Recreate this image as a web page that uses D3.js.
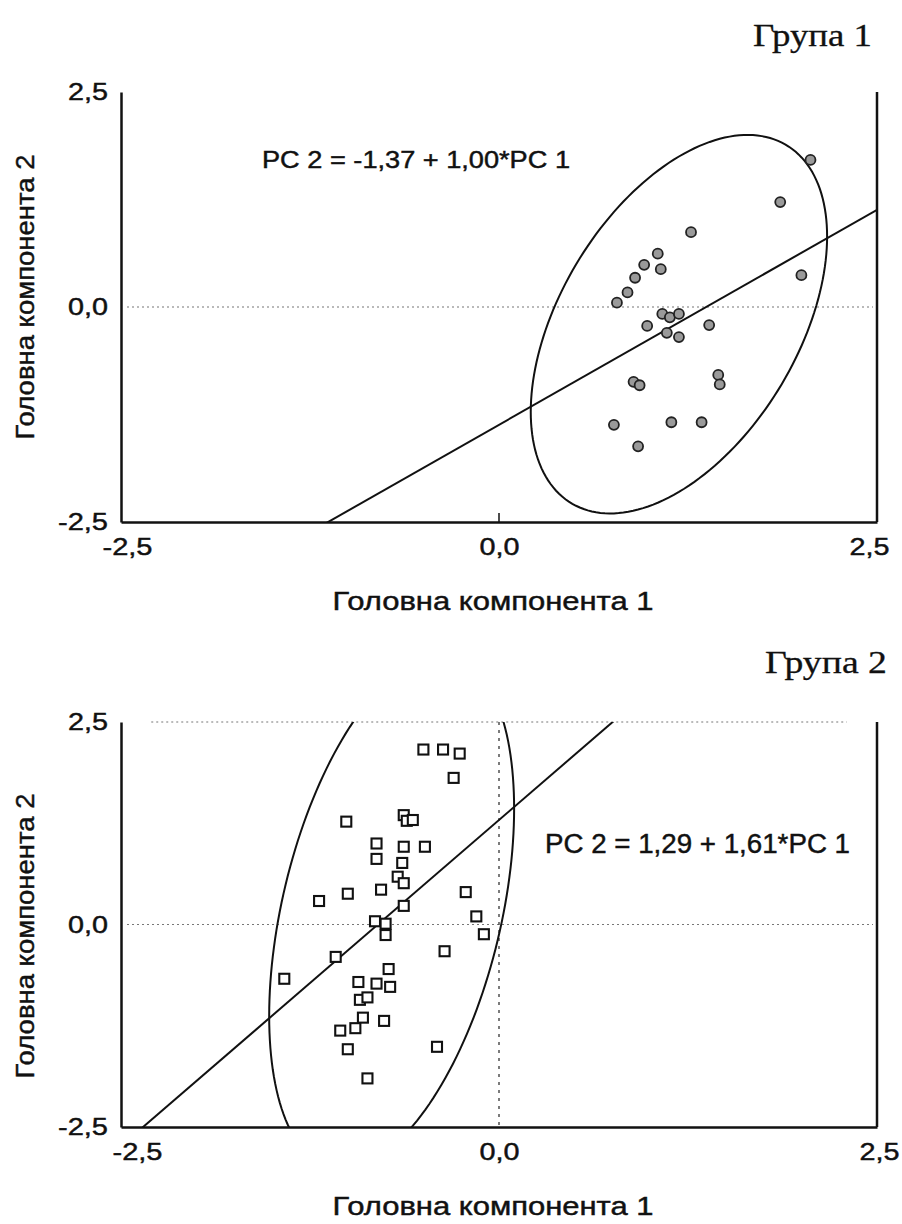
<!DOCTYPE html>
<html>
<head>
<meta charset="utf-8">
<script src="https://cdn.jsdelivr.net/npm/d3@7"></script>
<style>
  body { margin: 0; background: #fff; }
  svg { display: block; }
  text { font-family: "Liberation Sans", Arial, sans-serif; fill: #111; stroke: #111; stroke-width: 0.45px; }
  .group-title { font-family: "Liberation Serif", "Times New Roman", serif; stroke-width: 0.3px; }
  .axis path { stroke: #111; stroke-width: 2.5; }
</style>
</head>
<body>
<div id="chart"></div>
<script>
// DATA
var tickValues = [-2.5, 0, 2.5];
var tickLabels = ["-2,5", "0,0", "2,5"];
var xTitle = "Головна компонента 1";
var yTitle = "Головна компонента 2";

// group 1 (circles)
var group1PC1 = [2.06, 1.86, 1.27, 1.05, 0.96, 1.07, 0.90, 0.85, 0.78, 2.00, 1.08, 1.13, 1.19,
  0.98, 1.11, 1.19, 1.39, 0.89, 0.93, 1.45, 1.46, 0.76, 1.14, 1.34, 0.92];
var group1PC2 = [1.71, 1.22, 0.87, 0.62, 0.49, 0.44, 0.34, 0.17, 0.05, 0.37, -0.08, -0.12, -0.08,
  -0.22, -0.30, -0.35, -0.21, -0.87, -0.91, -0.79, -0.90, -1.37, -1.34, -1.34, -1.62];
var group1Fit = [-1.37, 1.00];                       // intercept, slope
var group1Ellipse = [1.19, -0.20, 0.98, 1.02, 0, 1.95]; // centre x, y, then two half-diameters

// group 2 (squares)
var group2PC1 = [-0.50, -0.37, -0.26, -0.30, -1.01, -0.63, -0.61, -0.57, -0.81, -0.63, -0.49,
  -0.81, -0.64, -0.67, -0.63, -1.19, -1.00, -0.78, -0.22, -0.63, -0.82, -0.75, -0.75, -0.15,
  -0.10, -0.36, -1.08, -1.42, -0.73, -0.93, -0.81, -0.72, -0.92, -0.87, -0.90, -0.76, -1.05,
  -0.95, -1.00, -0.41, -0.87];
var group2PC2 = [2.16, 2.16, 2.11, 1.81, 1.27, 1.35, 1.28, 1.29, 1.00, 0.96, 0.96, 0.81, 0.76,
  0.59, 0.51, 0.29, 0.38, 0.43, 0.40, 0.23, 0.04, 0.01, -0.13, 0.10, -0.12, -0.33, -0.40,
  -0.67, -0.55, -0.71, -0.73, -0.77, -0.93, -0.90, -1.15, -1.19, -1.31, -1.28, -1.54, -1.51,
  -1.90];
var group2Fit = [1.29, 1.61];
var group2Ellipse = [-0.71, 0.15, 0.81, 1.28, 0, 2.9];

// SETUP
var svg = d3.select("#chart").append("svg")
  .attr("width", 902)
  .attr("height", 1224);

var tickWidth = { 3: 40, 4: 50 };

function drawPanel(cfg) {
  var x = d3.scaleLinear().domain([-2.5, 2.5]).range([121, 877]),
    y = d3.scaleLinear().domain([-2.5, 2.5]).range([cfg.bottom, cfg.top]);

  var g = svg.append("g");

  g.append("clipPath").attr("id", cfg.id)
    .append("rect")
    .attr("x", x(-2.5)).attr("y", y(2.5))
    .attr("width", x(2.5) - x(-2.5)).attr("height", y(-2.5) - y(2.5));

  // dotted reference lines
  g.append("line")
    .attr("x1", x(-2.5) + 6).attr("x2", x(2.5) - 4)
    .attr("y1", y(0)).attr("y2", y(0))
    .attr("stroke", "#777").attr("stroke-width", 1.2)
    .attr("stroke-dasharray", "2,3");

  if (cfg.frame) {
    g.append("line")
      .attr("x1", x(-2.3)).attr("x2", x(2.3))
      .attr("y1", y(2.5)).attr("y2", y(2.5))
      .attr("stroke", "#777").attr("stroke-width", 1.2)
      .attr("stroke-dasharray", "2,3");
    g.append("line")
      .attr("x1", x(0)).attr("x2", x(0))
      .attr("y1", y(2.5)).attr("y2", y(-2.5))
      .attr("stroke", "#444").attr("stroke-width", 1.4)
      .attr("stroke-dasharray", "3,5");
  } else {
    g.append("line")
      .attr("x1", x(0)).attr("x2", x(0))
      .attr("y1", y(-2.5)).attr("y2", y(-2.5) - 9)
      .attr("stroke", "#111").attr("stroke-width", 1.5);
  }

  var plot = g.append("g").attr("clip-path", "url(#" + cfg.id + ")");

  // ellipse
  var e = cfg.ellipse;
  var ring = d3.range(0, 360, 2).map(function (deg) {
    var t = deg * Math.PI / 180;
    return [e[0] + e[2] * Math.cos(t) + e[4] * Math.sin(t),
      e[1] + e[3] * Math.cos(t) + e[5] * Math.sin(t)];
  });
  plot.append("path")
    .attr("d", d3.line()
      .x(function (d) { return x(d[0]); })
      .y(function (d) { return y(d[1]); })
      .curve(d3.curveLinearClosed)(ring))
    .attr("fill", "none").attr("stroke", "#111").attr("stroke-width", 2);

  // regression line
  var fit = [-3, 3].map(function (v) { return [v, cfg.fit[0] + cfg.fit[1] * v]; });
  plot.append("line")
    .attr("x1", x(fit[0][0])).attr("y1", y(fit[0][1]))
    .attr("x2", x(fit[1][0])).attr("y2", y(fit[1][1]))
    .attr("stroke", "#111").attr("stroke-width", 2);

  // points
  var pts = cfg.pc1.map(function (v, i) { return [v, cfg.pc2[i]]; });
  if (cfg.marker === "circle") {
    g.selectAll(".pt").data(pts).enter().append("circle")
      .attr("class", "pt")
      .attr("cx", function (d) { return x(d[0]); })
      .attr("cy", function (d) { return y(d[1]); })
      .attr("r", 5)
      .attr("fill", "#9a9a9a").attr("stroke", "#222").attr("stroke-width", 1.8);
  } else {
    g.selectAll(".pt").data(pts).enter().append("rect")
      .attr("class", "pt")
      .attr("x", function (d) { return x(d[0]) - 5; })
      .attr("y", function (d) { return y(d[1]) - 5; })
      .attr("width", 10).attr("height", 10)
      .attr("fill", "#fff").attr("stroke", "#111").attr("stroke-width", 2.1);
  }

  // axes
  var fmt = function (d) { return tickLabels[tickValues.indexOf(d)]; };

  var ax = g.append("g").attr("class", "axis")
    .attr("transform", "translate(" + x(-2.5) + ",0)")
    .call(d3.axisLeft(y).tickValues(tickValues).tickFormat(fmt).tickSize(0).tickPadding(13));
  ax.selectAll("text")
    .style("font-size", "24px").style("font-family", "Liberation Sans, Arial, sans-serif")
    .attr("fill", "#111")
    .attr("textLength", function (d) { return tickWidth[fmt(d).length]; })
    .attr("lengthAdjust", "spacingAndGlyphs");

  var bx = g.append("g").attr("class", "axis")
    .attr("transform", "translate(0," + y(-2.5) + ")")
    .call(d3.axisBottom(x).tickValues(tickValues).tickFormat(fmt).tickSize(0).tickPadding(16));
  bx.selectAll("text")
    .style("font-size", "24px").style("font-family", "Liberation Sans, Arial, sans-serif")
    .attr("fill", "#111")
    .attr("dx", function (d, i) { return cfg.tickNudge[i]; })
    .attr("textLength", function (d) { return tickWidth[fmt(d).length]; })
    .attr("lengthAdjust", "spacingAndGlyphs");

  // right frame line
  g.append("line")
    .attr("x1", x(2.5)).attr("x2", x(2.5))
    .attr("y1", y(2.5)).attr("y2", y(-2.5))
    .attr("stroke", "#111").attr("stroke-width", 2.5);

  // texts
  g.append("text").attr("class", "group-title")
    .attr("x", cfg.titleX).attr("y", cfg.titleY)
    .style("font-size", "32px")
    .attr("textLength", cfg.titleLen).attr("lengthAdjust", "spacingAndGlyphs")
    .text(cfg.title);

  g.append("text")
    .attr("x", cfg.eqX).attr("y", cfg.eqY)
    .style("font-size", cfg.eqSize + "px")
    .attr("textLength", cfg.eqLen).attr("lengthAdjust", "spacingAndGlyphs")
    .text(cfg.eq);

  g.append("text")
    .attr("x", 493).attr("y", y(-2.5) + 88)
    .attr("text-anchor", "middle")
    .style("font-size", "26px")
    .attr("textLength", 321).attr("lengthAdjust", "spacingAndGlyphs")
    .text(xTitle);

  g.append("text")
    .attr("transform", "translate(34," + cfg.yTitleY + ") rotate(-90)")
    .attr("text-anchor", "middle")
    .style("font-size", "26px")
    .attr("textLength", 285).attr("lengthAdjust", "spacingAndGlyphs")
    .text(yTitle);
}

// START!
drawPanel({
  id: "clip1", top: 92, bottom: 522,
  pc1: group1PC1, pc2: group1PC2, fit: group1Fit, ellipse: group1Ellipse,
  marker: "circle", frame: false, tickNudge: [6, 0, -8],
  title: "Група 1", titleX: 753, titleY: 46, titleLen: 119,
  eq: "PC 2 = -1,37 + 1,00*PC 1", eqX: 262, eqY: 168, eqSize: 23, eqLen: 308,
  yTitleY: 297
});

drawPanel({
  id: "clip2", top: 722, bottom: 1127,
  pc1: group2PC1, pc2: group2PC2, fit: group2Fit, ellipse: group2Ellipse,
  marker: "square", frame: true, tickNudge: [16, 0, 2],
  title: "Група 2", titleX: 765, titleY: 673, titleLen: 122,
  eq: "PC 2 = 1,29 + 1,61*PC 1", eqX: 545, eqY: 853, eqSize: 27, eqLen: 305,
  yTitleY: 936
});
</script>
</body>
</html>
